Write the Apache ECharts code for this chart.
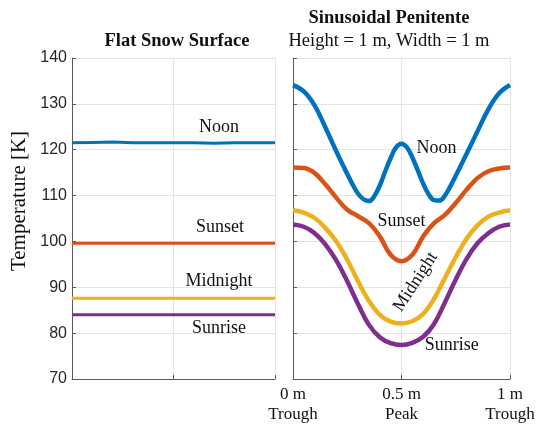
<!DOCTYPE html>
<html>
<head>
<meta charset="utf-8">
<script src="https://cdn.jsdelivr.net/npm/echarts@6/dist/echarts.min.js"></script>
<style>html,body{margin:0;padding:0;background:#fff;}#c{width:539px;height:425px;}</style>
</head>
<body>
<div id="c"></div>
<script>
// ---- Data ----
var seriesNames = ['Noon', 'Sunset', 'Midnight', 'Sunrise'];
var colors = ['#0072BD', '#D95319', '#EDB120', '#7E2F8E'];

// Flat snow surface (left panel)
var flatX = [0, 0.1, 0.2, 0.3, 0.4, 0.5, 0.6, 0.7, 0.8, 0.9, 1.0];
var flatNoon = [121.5, 121.6, 121.7, 121.5, 121.5, 121.5, 121.5, 121.4, 121.5, 121.5, 121.5];
var flatSunset = [99.6, 99.6, 99.6, 99.6, 99.6, 99.6, 99.6, 99.6, 99.6, 99.6, 99.6];
var flatMidnight = [87.6, 87.6, 87.6, 87.6, 87.6, 87.6, 87.6, 87.6, 87.6, 87.6, 87.6];
var flatSunrise = [84.0, 84.0, 84.0, 84.0, 84.0, 84.0, 84.0, 84.0, 84.0, 84.0, 84.0];

// Sinusoidal penitente (right panel)
var noonX = [0, 0.05, 0.1, 0.15, 0.2, 0.25, 0.275, 0.3, 0.325, 0.35, 0.375, 0.4, 0.425, 0.45, 0.475, 0.5,
             0.525, 0.55, 0.575, 0.6, 0.625, 0.65, 0.675, 0.7, 0.725, 0.75, 0.8, 0.85, 0.9, 0.95, 1.0];
var penNoon = [134.1, 132.7, 129.6, 124.8, 119.6, 114.7, 112.4, 110.4, 109.2, 108.8, 109.9, 112.2, 115.3, 118.2, 120.5, 121.3,
               120.5, 118.3, 115.5, 112.6, 110.3, 109.0, 108.9, 110.0, 112.0, 114.3, 119.1, 124.0, 128.8, 132.3, 134.1];
var penX = [0, 0.05, 0.1, 0.15, 0.2, 0.25, 0.3, 0.35, 0.4, 0.45, 0.5,
            0.55, 0.6, 0.65, 0.7, 0.75, 0.8, 0.85, 0.9, 0.95, 1.0];
var penSunset = [116.1, 116.0, 114.9, 112.4, 109.5, 106.9, 105.5, 104.0, 101.1, 97.1, 95.7,
                 97.1, 101.1, 104.0, 105.8, 108.4, 111.3, 113.8, 115.3, 115.9, 116.1];
var penMidnight = [106.8, 106.3, 105.1, 102.9, 100.0, 96.0, 91.3, 87.0, 84.0, 82.5, 82.1,
                   82.6, 84.2, 87.5, 92.0, 96.6, 100.6, 103.5, 105.4, 106.3, 106.8];
var penSunrise = [103.7, 103.2, 101.8, 99.3, 95.8, 91.3, 86.3, 81.8, 79.1, 77.8, 77.4,
                  77.9, 79.2, 82.0, 86.7, 91.7, 96.2, 99.6, 101.8, 103.2, 103.7];

// Tick labels
var yTicks = [70, 80, 90, 100, 110, 120, 130, 140];
var penTickLabels = {'0': '0 m\nTrough', '0.5': '0.5 m\nPeak', '1': '1 m\nTrough'};

// Annotation positions (data coordinates) and rotations
var flatLabelPos = [[0.724, 125.0], [0.729, 103.0], [0.724, 91.4], [0.724, 81.1]];
var penLabelPos = [[0.661, 120.4], [0.50, 104.3], [0.565, 91.2], [0.731, 77.3]];
var penLabelRot = [0, 0, 57, 0];

// ---- Chart ----
var SERIF = '"Liberation Serif", "Times New Roman", serif';
var SANS = '"Liberation Sans", Arial, sans-serif';

function pairs(xs, ys) { return xs.map(function (x, i) { return [x, ys[i]]; }); }

var flatData = [flatNoon, flatSunset, flatMidnight, flatSunrise];
var penData = [pairs(noonX, penNoon), pairs(penX, penSunset), pairs(penX, penMidnight), pairs(penX, penSunrise)];

var series = [];
seriesNames.forEach(function (n, i) {
  series.push({
    type: 'line', name: n, xAxisIndex: 0, yAxisIndex: 0,
    data: pairs(flatX, flatData[i]), showSymbol: false, symbol: 'none', smooth: false,
    lineStyle: {color: colors[i], width: 3}, itemStyle: {color: colors[i]},
    silent: true, animation: false, z: 3,
    markPoint: {
      symbol: 'circle', symbolSize: 0, silent: true, animation: false,
      label: {show: true, position: 'inside', formatter: n, color: '#111',
              fontFamily: SERIF, fontSize: 18},
      data: [{coord: flatLabelPos[i]}]
    }
  });
});
seriesNames.forEach(function (n, i) {
  series.push({
    type: 'line', name: n, xAxisIndex: 1, yAxisIndex: 1,
    data: penData[i], showSymbol: false, symbol: 'none', smooth: 0.4,
    lineStyle: {color: colors[i], width: 4.5}, itemStyle: {color: colors[i]},
    silent: true, animation: false, z: 3,
    markPoint: {
      symbol: 'circle', symbolSize: 0, silent: true, animation: false,
      label: {show: true, position: 'inside', formatter: n, color: '#111',
              fontFamily: SERIF, fontSize: 18, rotate: penLabelRot[i]},
      data: [{coord: penLabelPos[i]}]
    }
  });
});

var axisLineStyle = {color: '#5a5a5a', width: 1};
var gridLine = {show: true, lineStyle: {color: '#e3e3e3', width: 1}};

var chart = echarts.init(document.getElementById('c'), null, {renderer: 'canvas'});
chart.setOption({
  backgroundColor: '#fff',
  animation: false,
  title: [
    {text: 'Flat Snow Surface', left: 177, top: 32, textAlign: 'center', padding: 0,
     textStyle: {fontFamily: SERIF, fontWeight: 'bold', fontSize: 18.5, color: '#111'}},
    {text: 'Sinusoidal Penitente', left: 389, top: 9, textAlign: 'center', padding: 0,
     textStyle: {fontFamily: SERIF, fontWeight: 'bold', fontSize: 18.5, color: '#111'}},
    {text: 'Height = 1 m, Width = 1 m', left: 389, top: 32, textAlign: 'center', padding: 0,
     textStyle: {fontFamily: SERIF, fontWeight: 'normal', fontSize: 18.5, color: '#111'}}
  ],
  graphic: [{
    type: 'text', x: 19, y: 201, rotation: Math.PI / 2,
    style: {text: 'Temperature [K]', fontFamily: SERIF, fontSize: 21, fill: '#111',
            textAlign: 'center', textVerticalAlign: 'middle'}
  }],
  grid: [
    {left: 72, top: 58, width: 203, height: 321, containLabel: false},
    {left: 293, top: 58, width: 217, height: 321, containLabel: false}
  ],
  xAxis: [
    {type: 'value', gridIndex: 0, min: 0, max: 1, interval: 0.5,
     axisLine: {show: true, lineStyle: axisLineStyle},
     axisTick: {show: true, inside: true, length: 4, lineStyle: axisLineStyle},
     axisLabel: {show: false}, splitLine: gridLine},
    {type: 'value', gridIndex: 1, min: 0, max: 1, interval: 0.5,
     axisLine: {show: true, lineStyle: axisLineStyle},
     axisTick: {show: true, inside: true, length: 4, lineStyle: axisLineStyle},
     axisLabel: {show: true, showMinLabel: true, showMaxLabel: true, margin: 6,
                 fontFamily: SERIF, fontSize: 17, color: '#111', lineHeight: 20,
                 formatter: function (v) { return penTickLabels[String(v)] || ''; }},
     splitLine: gridLine}
  ],
  yAxis: [
    {type: 'value', gridIndex: 0, min: yTicks[0], max: yTicks[yTicks.length - 1], interval: 10,
     axisLine: {show: true, lineStyle: axisLineStyle},
     axisTick: {show: true, inside: true, length: 4, lineStyle: axisLineStyle},
     axisLabel: {show: true, margin: 5, fontFamily: SANS, fontSize: 16, color: '#262626'},
     splitLine: gridLine},
    {type: 'value', gridIndex: 1, min: yTicks[0], max: yTicks[yTicks.length - 1], interval: 10,
     axisLine: {show: true, lineStyle: axisLineStyle},
     axisTick: {show: true, inside: true, length: 4, lineStyle: axisLineStyle},
     axisLabel: {show: false}, splitLine: gridLine}
  ],
  series: series
});
</script>
</body>
</html>
